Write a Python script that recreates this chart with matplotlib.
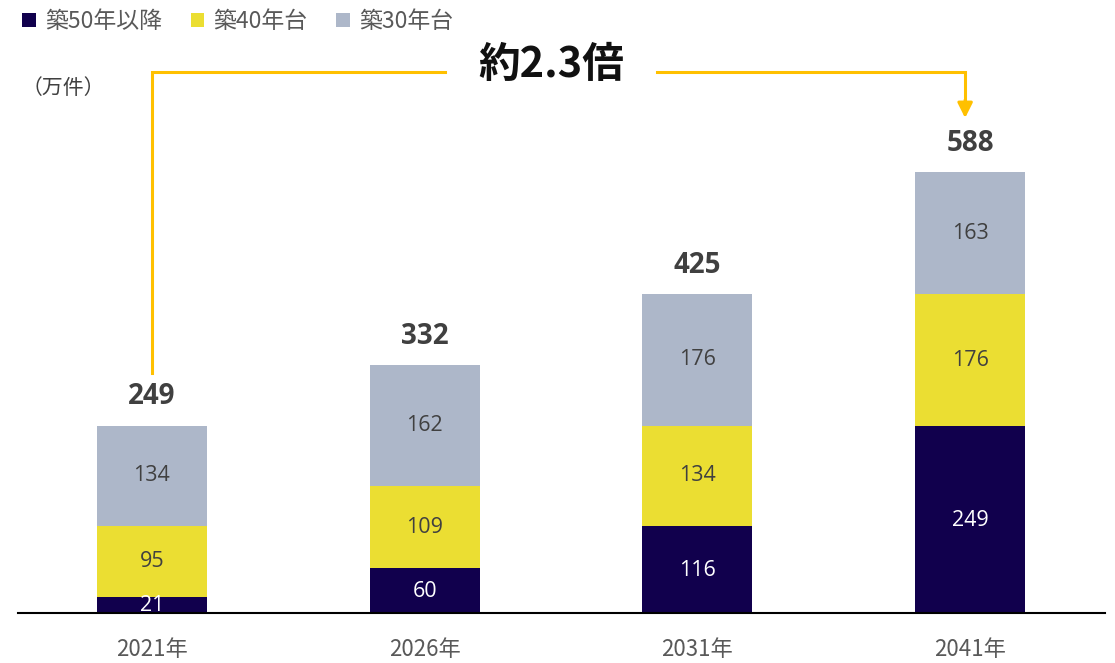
import matplotlib
matplotlib.use("Agg")
import matplotlib.pyplot as plt
from matplotlib.patches import Patch
import numpy as np

plt.rcParams['font.family'] = ['Noto Sans CJK JP', 'DejaVu Sans']

categories = ["2021年", "2026年", "2031年", "2041年"]
s50 = [21, 60, 116, 249]
s40 = [95, 109, 134, 176]
s30 = [134, 162, 176, 163]
totals = [249, 332, 425, 588]
series_names = ["築50年以降", "築40年台", "築30年台"]
colors = ["#11004D", "#EBDE32", "#ADB7C9"]
ratio_label = "約2.3倍"
unit_label = "（万件）"

W, H = 1115, 663
fig = plt.figure(figsize=(W / 100, H / 100), dpi=100)
base_px = 613
top_px = 30
scale = 0.75  # px per unit
ax = fig.add_axes([18 / W, (H - base_px) / H, 1087 / W, (base_px - top_px) / H])
ax.set_ylim(0, (base_px - top_px) / scale)
ax.set_xlim(-0.491, 3.495)

x = np.arange(len(categories))
bw = 0.403
ax.bar(x, s50, bw, color=colors[0], zorder=2)
ax.bar(x, s40, bw, bottom=s50, color=colors[1], zorder=2)
bottom3 = np.array(s50) + np.array(s40)
ax.bar(x, s30, bw, bottom=bottom3, color=colors[2], zorder=2)

num_font = ["Open Sans", "DejaVu Sans"]
seg_fs = 15.5
for i in range(len(x)):
    ax.text(x[i], s50[i] / 2 - 1, str(s50[i]), ha="center", va="center",
            color="white", fontsize=seg_fs, family=num_font, zorder=3)
    ax.text(x[i], s50[i] + s40[i] / 2, str(s40[i]), ha="center", va="center",
            color="#404040", fontsize=seg_fs, family=num_font, zorder=3)
    ax.text(x[i], bottom3[i] + s30[i] / 2, str(s30[i]), ha="center", va="center",
            color="#404040", fontsize=seg_fs, family=num_font, zorder=3)
    top = bottom3[i] + s30[i]
    ax.text(x[i], top + 38, str(totals[i]), ha="center", va="center",
            color="#404040", fontsize=20, fontweight="bold",
            family=num_font, zorder=3)

for sp in ["left", "right", "top"]:
    ax.spines[sp].set_visible(False)
ax.spines["bottom"].set_linewidth(1.5)
ax.spines["bottom"].set_color("#000000")
ax.set_yticks([])
ax.set_xticks(x)
ax.set_xticklabels(categories, fontsize=16, color="#595959")
ax.tick_params(axis="x", length=0, pad=18)

# bracket
orange = "#FFC000"
y_top = 721
ax.plot([0, 0, 1.074], [320, y_top, y_top], color=orange, lw=2.2, clip_on=False,
        solid_joinstyle="miter", zorder=1)
ax.plot([1.852, 2.982, 2.982], [y_top, y_top, 682], color=orange, lw=2.2,
        clip_on=False, solid_joinstyle="miter", zorder=1)
ax.annotate("", xy=(2.982, 660), xytext=(2.982, 684),
            arrowprops=dict(arrowstyle="-|>,head_length=0.9,head_width=0.45",
                            color=orange, lw=2.2, shrinkA=0, shrinkB=0),
            annotation_clip=False)
ax.text(1.463, 731, ratio_label, ha="center", va="center", fontsize=30,
        fontweight="bold", color="#111111", zorder=3)

# unit label
fig.text(22 / W, 1 - 88 / H, unit_label, ha="left", va="center", fontsize=15,
         color="#404040")

# legend
handles = [Patch(facecolor=c, edgecolor="none") for c in colors]
leg = fig.legend(handles, series_names, loc="upper left",
                 bbox_to_anchor=(13 / W, 1 - 1 / H), ncol=3, frameon=False,
                 fontsize=16.5, handlelength=0.6, handleheight=0.6,
                 handletextpad=0.4, columnspacing=1.25, borderaxespad=0)
for t in leg.get_texts():
    t.set_color("#595959")

fig.savefig("out.png", dpi=100)
